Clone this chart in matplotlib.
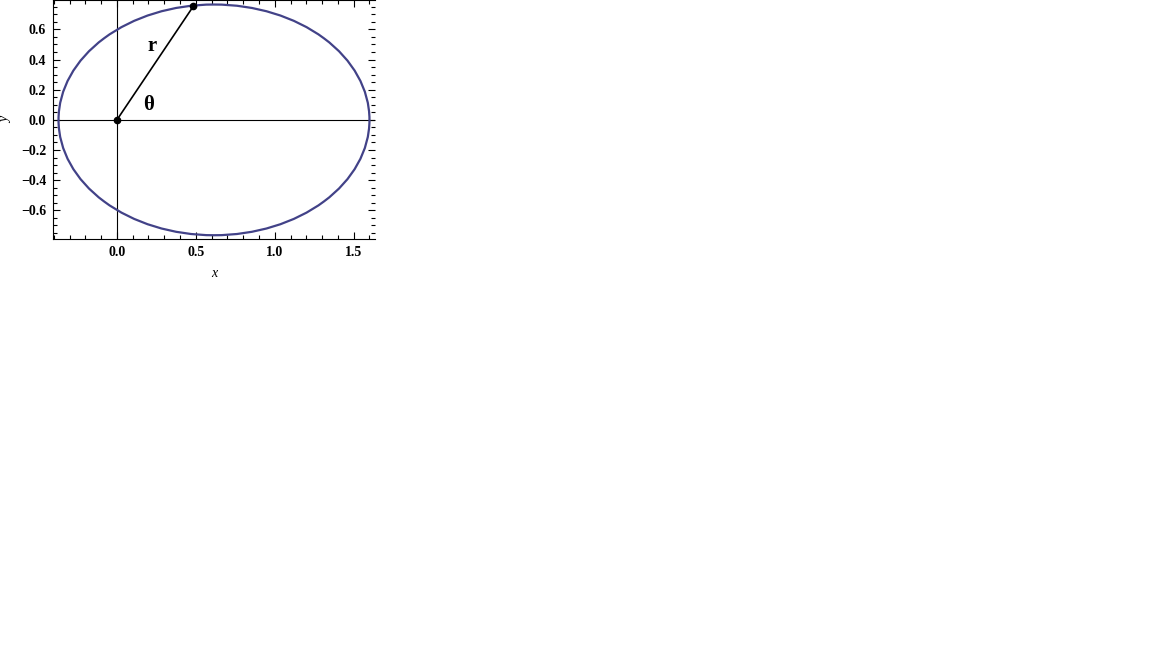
import matplotlib

matplotlib.use("Agg")
import matplotlib.pyplot as plt
from matplotlib.patches import Ellipse
from matplotlib.ticker import MultipleLocator

# orbit extent (focus at the origin)
orbit_left = -0.37
orbit_right = 1.60
orbit_half_height = 0.765

# radius vector end point
r_point = [0.485, 0.755]
origin = [0.0, 0.0]

x_ticks = [0.0, 0.5, 1.0, 1.5]
y_ticks = [-0.6, -0.4, -0.2, 0.0, 0.2, 0.4, 0.6]

plt.rcParams["font.family"] = ["Liberation Serif", "DejaVu Serif"]

fig = plt.figure(figsize=(11.52, 6.48), dpi=100)
ax = fig.add_axes([53 / 1152, 409 / 648, 322 / 1152, 239 / 648])

ax.axhline(0, color="black", lw=0.8, zorder=1)
ax.axvline(0, color="black", lw=0.8, zorder=1)

center = (orbit_left + orbit_right) / 2
orbit = Ellipse(
    (center, 0),
    orbit_right - orbit_left,
    2 * orbit_half_height,
    fill=False,
    edgecolor="#424288",
    lw=1.6,
    zorder=2,
)
ax.add_patch(orbit)

ax.plot(
    [origin[0], r_point[0]],
    [origin[1], r_point[1]],
    color="black",
    lw=1.2,
    marker="o",
    ms=4.5,
    zorder=3,
)

ax.text(0.223, 0.49, "r", fontsize=15, fontweight="bold", ha="center", va="center")
ax.text(0.198, 0.10, "θ", fontsize=15, fontweight="bold", ha="center", va="center")

ax.set_xlim(-0.405, 1.635)
ax.set_ylim(-0.79, 0.795)
ax.set_xticks(x_ticks)
ax.set_yticks(y_ticks)
ax.set_xticklabels([f"{v:.1f}" for v in x_ticks])
ax.set_yticklabels([f"{v:.1f}".replace("-", "\u2212") for v in y_ticks])
ax.xaxis.set_minor_locator(MultipleLocator(0.1))
ax.yaxis.set_minor_locator(MultipleLocator(0.05))
ax.tick_params(which="both", direction="in", top=True, right=True, width=0.8)
ax.tick_params(which="major", length=5, labelsize=10, pad=5)
ax.tick_params(which="minor", length=3)
for lab in ax.get_xticklabels() + ax.get_yticklabels():
    lab.set_fontweight("bold")
ax.spines["right"].set_visible(False)
for s in ["left", "bottom", "top"]:
    ax.spines[s].set_linewidth(0.8)

ax.set_xlabel("x", fontsize=10, fontstyle="italic", labelpad=6)
ax.set_ylabel("y", fontsize=10, fontstyle="italic", labelpad=6)

fig.savefig("out.png", dpi=100)
